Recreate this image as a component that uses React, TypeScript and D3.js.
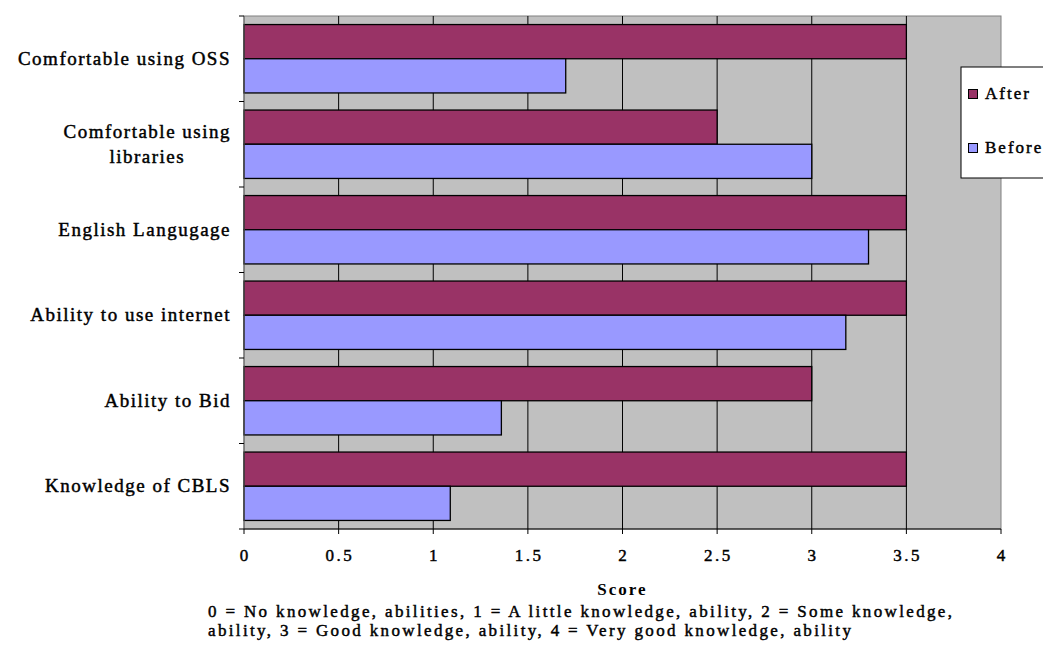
import React from "react";
import * as d3 from "d3";

const categories: string[][] = [
  ["Comfortable using OSS"],
  ["Comfortable using", "libraries"],
  ["English Langugage"],
  ["Ability to use internet"],
  ["Ability to Bid"],
  ["Knowledge of CBLS"],
];
const seriesNames = ["After", "Before"];
const afterValues = [3.5, 2.5, 3.5, 3.5, 3.0, 3.5];
const beforeValues = [1.7, 3.0, 3.3, 3.18, 1.36, 1.09];
const xTicks = [0, 0.5, 1, 1.5, 2, 2.5, 3, 3.5, 4];
const tickLabels = ["0", "0.5", "1", "1.5", "2", "2.5", "3", "3.5", "4"];
const axisTitle = "Score";
const captionLines = [
  "0 = No knowledge, abilities, 1 = A little knowledge, ability, 2 = Some knowledge,",
  "ability, 3 = Good knowledge, ability, 4 = Very good knowledge, ability",
];
const colors = ["#993366", "#9999FF"];

const FONT = "'Liberation Serif', 'Times New Roman', serif";
const LABEL_SIZE = 19;
const LABEL_LS = 1.5;
const THICK = { stroke: "#000", strokeWidth: 0.45 };

function measure(text: string, size: number, ls: number): number {
  const c = document.createElement("canvas").getContext("2d");
  if (!c) return text.length * size * 0.45;
  c.font = `${size}px "Liberation Serif"`;
  return c.measureText(text).width + ls * text.length;
}

export default function App() {
  const W = 1043;
  const H = 646;
  const left = 244;
  const right = 1001;
  const top = 16;
  const bottom = 529;

  const x = d3.scaleLinear().domain([0, 4]).range([left, right]);
  const keys = categories.map((c) => c.join(" "));
  const y = d3.scaleBand<string>().domain(keys).range([top, bottom]).paddingInner(0).paddingOuter(0);
  const ys = d3.scaleBand<string>().domain(seriesNames).range([0, y.bandwidth()]).paddingOuter(0.25).paddingInner(0);
  const data = [afterValues, beforeValues];

  return (
    <svg width={W} height={H} style={{ position: "absolute", left: 0, top: 0, background: "#fff" }}>
      <rect x={left} y={top} width={right - left} height={bottom - top} fill="#C0C0C0" stroke="#808080" strokeWidth={1} />
      {xTicks.slice(1, -1).map((t) => (
        <line key={"g" + t} x1={x(t)} x2={x(t)} y1={top} y2={bottom} stroke="#000" strokeWidth={1} />
      ))}
      {keys.map((k, i) =>
        seriesNames.map((s, j) => (
          <rect
            key={k + s}
            x={x(0)}
            y={(y(k) ?? 0) + (ys(s) ?? 0)}
            width={x(data[j][i]) - x(0)}
            height={ys.bandwidth()}
            fill={colors[j]}
            stroke="#000"
            strokeWidth={1.3}
          />
        ))
      )}
      {/* axes */}
      <line x1={left} x2={left} y1={top} y2={bottom} stroke="#606060" strokeWidth={1} />
      <line x1={left} x2={right} y1={bottom} y2={bottom} stroke="#000" strokeWidth={1} />
      {[...keys.map((k) => y(k) ?? 0), bottom].map((v, i) => (
        <line key={"yt" + i} x1={left - 5} x2={left} y1={v} y2={v} stroke="#000" />
      ))}
      {xTicks.map((t) => (
        <line key={"xt" + t} x1={x(t)} x2={x(t)} y1={bottom} y2={bottom + 5} stroke="#000" />
      ))}
      {xTicks.map((t, i) => (
        <text key={"xl" + t} x={x(t) + 1.2} y={561} textAnchor="middle" fontFamily={FONT} fontSize={17} letterSpacing={2.4} fill="#000" {...THICK}>
          {tickLabels[i]}
        </text>
      ))}
      {categories.map((lines, i) => {
        const k = keys[i];
        const cy = (y(k) ?? 0) + y.bandwidth() / 2;
        const maxW = Math.max(...lines.map((l) => measure(l, LABEL_SIZE, LABEL_LS)));
        const cx = 231 - maxW / 2;
        const lh = 25;
        const startY = cy - ((lines.length - 1) * lh) / 2 + 6;
        return lines.map((l, li) => (
          <text
            key={k + li}
            x={cx}
            y={startY + li * lh}
            textAnchor="middle"
            fontFamily={FONT}
            fontSize={LABEL_SIZE}
            letterSpacing={LABEL_LS}
            fill="#000"
            {...THICK}
          >
            {l}
          </text>
        ));
      })}
      <text x={(left + right) / 2} y={595} textAnchor="middle" fontFamily={FONT} fontSize={17} letterSpacing={2} fontWeight="bold">
        {axisTitle}
      </text>
      {captionLines.map((l, i) => (
        <text key={"c" + i} x={208} y={617 + i * 19} fontFamily={FONT} fontSize={17} letterSpacing={2.35} fill="#000" {...THICK}>
          {l}
        </text>
      ))}
      {/* legend */}
      <rect x={961} y={67} width={100} height={111} fill="#fff" stroke="#000" strokeWidth={1} />
      {seriesNames.map((s, i) => (
        <g key={"lg" + s}>
          <rect x={968.5} y={89.5 + i * 54} width={9} height={9} fill={colors[i]} stroke="#000" />
          <text x={985} y={99 + i * 54} fontFamily={FONT} fontSize={17} letterSpacing={2} fill="#000" {...THICK}>
            {s}
          </text>
        </g>
      ))}
    </svg>
  );
}
